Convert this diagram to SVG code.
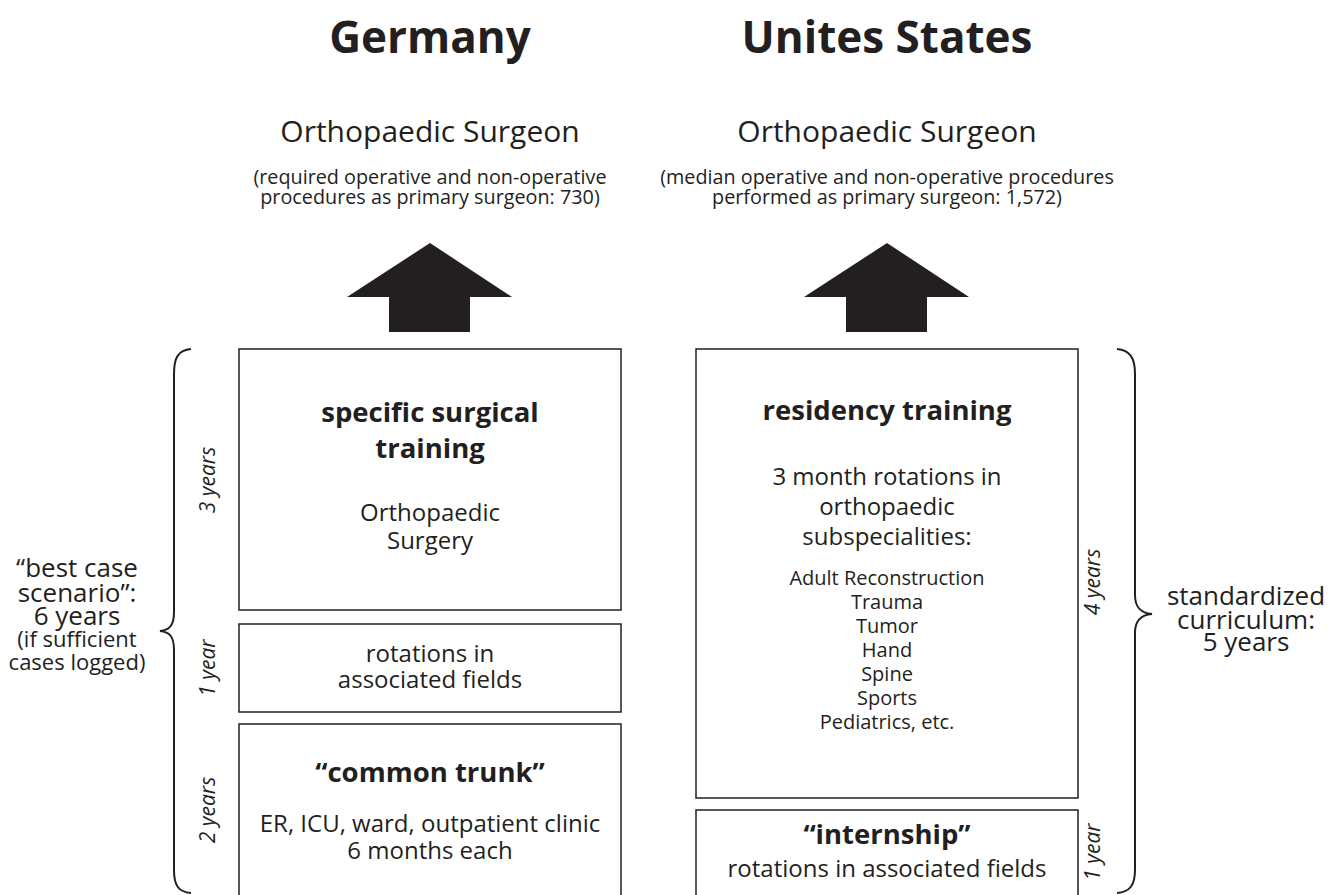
<svg xmlns="http://www.w3.org/2000/svg" width="1332" height="895" viewBox="0 0 1332 895">
<style>
text{font-family:"Open Sans","Noto Sans","Liberation Sans",sans-serif;fill:#231f20;text-anchor:middle}
.title{font-size:44px;font-weight:bold}
.surg{font-size:30px}
.sub{font-size:19.8px}
.bold{font-size:27.5px;font-weight:bold}
.body{font-size:24px}
.list{font-size:20px}
.yr{font-size:21px;font-style:italic}
.side{font-size:26px}
.side2{font-size:22px}
.box{fill:#fff;stroke:#231f20;stroke-width:1.5}
.brace{fill:none;stroke:#231f20;stroke-width:2}
.arrow{fill:#231f20}
</style>
<rect width="1332" height="895" fill="#fff"/>
<text class="title" x="430" y="53">Germany</text>
<text class="title" x="887" y="53">Unites States</text>

<g id="germany-result">
<text class="surg" x="430" y="142">Orthopaedic Surgeon</text>
<text class="sub" x="430" y="184">(required operative and non-operative</text>
<text class="sub" x="430" y="204">procedures as primary surgeon: 730)</text>
</g>
<g id="us-result">
<text class="surg" x="887" y="142">Orthopaedic Surgeon</text>
<text class="sub" x="887" y="184">(median operative and non-operative procedures</text>
<text class="sub" x="887" y="204">performed as primary surgeon:  1,572)</text>
</g>

<g id="connectors">
<polygon class="arrow" points="430,243 512,297 470,297 470,332 389,332 389,297 347,297"/>
<polygon class="arrow" points="887,243 969,297 927,297 927,332 846,332 846,297 804,297"/>
<path class="brace" d="M191,349 C178,350 174,358 174,374 L174,612 C174,625 170,630 160,631 C170,632 174,637 174,650 L174,870 C174,885 178,892 191,893"/>
<path class="brace" d="M1117,349 C1130,350 1135,358 1135,374 L1135,595 C1135,608 1141,613 1152,614 C1141,615 1135,620 1135,633 L1135,870 C1135,885 1130,892 1117,893"/>
</g>

<g id="specific-surgical-training">
<rect class="box" x="239" y="349" width="382" height="261"/>
<text class="bold" x="430" y="422">specific surgical</text>
<text class="bold" x="430" y="458">training</text>
<text class="body" x="430" y="521">Orthopaedic</text>
<text class="body" x="430" y="549">Surgery</text>
</g>
<g id="rotations-associated">
<rect class="box" x="239" y="624" width="382" height="88"/>
<text class="body" x="430" y="662">rotations in</text>
<text class="body" x="430" y="688">associated fields</text>
</g>
<g id="common-trunk">
<rect class="box" x="239" y="724" width="382" height="180"/>
<text class="bold" x="430" y="782">“common trunk”</text>
<text class="body" x="430" y="832">ER, ICU, ward, outpatient clinic</text>
<text class="body" x="430" y="859">6 months each</text>
</g>

<g id="residency-training">
<rect class="box" x="696" y="349" width="382" height="449"/>
<text class="bold" x="887" y="420">residency training</text>
<text class="body" x="887" y="485">3 month rotations in</text>
<text class="body" x="887" y="515">orthopaedic</text>
<text class="body" x="887" y="545">subspecialities:</text>
<text class="list" x="887" y="585">Adult Reconstruction</text>
<text class="list" x="887" y="609">Trauma</text>
<text class="list" x="887" y="633">Tumor</text>
<text class="list" x="887" y="657">Hand</text>
<text class="list" x="887" y="681">Spine</text>
<text class="list" x="887" y="705">Sports</text>
<text class="list" x="887" y="729">Pediatrics, etc.</text>
</g>
<g id="internship">
<rect class="box" x="696" y="810" width="382" height="95"/>
<text class="bold" x="887" y="844">“internship”</text>
<text class="body" x="887" y="877">rotations in associated fields</text>
</g>

<g id="year-labels">
<text class="yr" transform="translate(215,480) rotate(-90)">3 years</text>
<text class="yr" transform="translate(215,668) rotate(-90)">1 year</text>
<text class="yr" transform="translate(215,810) rotate(-90)">2 years</text>
<text class="yr" transform="translate(1100,582) rotate(-90)">4 years</text>
<text class="yr" transform="translate(1100,852) rotate(-90)">1 year</text>
</g>

<g id="germany-duration">
<text class="side" x="77" y="577">“best case</text>
<text class="side" x="77" y="602">scenario”:</text>
<text class="side" x="77" y="625">6 years</text>
<text class="side2" x="77" y="647">(if sufficient</text>
<text class="side2" x="77" y="670">cases logged)</text>
</g>
<g id="us-duration">
<text class="side" x="1246" y="605">standardized</text>
<text class="side" x="1246" y="629">curriculum:</text>
<text class="side" x="1246" y="651">5 years</text>
</g>
</svg>
